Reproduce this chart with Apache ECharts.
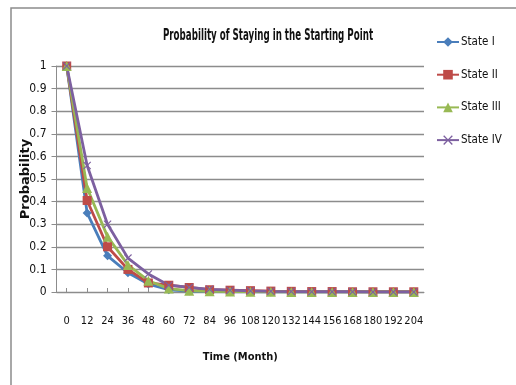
<!DOCTYPE html>
<html>
<head>
<meta charset="utf-8">
<script src="https://cdn.jsdelivr.net/npm/echarts@6/dist/echarts.min.js"></script>
<style>
  html, body { margin: 0; padding: 0; background: #fff; }
  #chart { width: 516px; height: 385px; }
</style>
</head>
<body>
<div id="chart"></div>
<script>
// Months since start
const months = ['0','12','24','36','48','60','72','84','96','108','120','132','144','156','168','180','192','204'];

// Probability of remaining in the starting state
const stateI   = [1, 0.35, 0.16, 0.085, 0.035, 0.01, 0.004, 0.002, 0.001, 0.001, 0, 0, 0, 0, 0, 0, 0, 0];
const stateII  = [1, 0.405, 0.20, 0.10, 0.04, 0.03, 0.02, 0.01, 0.008, 0.006, 0.004, 0.003, 0.002, 0.002, 0.001, 0.001, 0.001, 0.001];
const stateIII = [1, 0.46, 0.245, 0.12, 0.05, 0.015, 0.006, 0.003, 0.002, 0.001, 0.001, 0, 0, 0, 0, 0, 0, 0];
const stateIV  = [1, 0.56, 0.30, 0.15, 0.08, 0.03, 0.02, 0.012, 0.008, 0.005, 0.003, 0.002, 0.001, 0.001, 0.001, 0, 0, 0];

const yTicks = [0, 0.1, 0.2, 0.3, 0.4, 0.5, 0.6, 0.7, 0.8, 0.9, 1];

const chartTitle = 'Probability of Staying in the Starting Point';

const narrow = '"DejaVu Sans Condensed", "Liberation Sans Narrow", sans-serif';

// thin diagonal cross used as the State IV marker
const crossPath = 'path://M0,1L1,0L5,4L9,0L10,1L6,5L10,9L9,10L5,6L1,10L0,9L4,5Z';

function lineSeries(name, data, color, symbol, size) {
  return {
    name: name,
    type: 'line',
    data: data,
    symbol: symbol,
    symbolSize: size,
    showAllSymbol: true,
    lineStyle: { color: color, width: 2.8 },
    itemStyle: { color: color },
    emphasis: { disabled: true }
  };
}

const chart = echarts.init(document.getElementById('chart'), null, { renderer: 'canvas' });
chart.setOption({
  animation: false,
  backgroundColor: '#fff',
  graphic: [
    {
      type: 'rect',
      shape: { x: 11, y: 8, width: 520, height: 390 },
      style: { fill: 'none', stroke: '#8c8c8c', lineWidth: 1.5 },
      z: -1
    },
    {
      // title, squeezed horizontally to a narrow face
      type: 'text',
      x: 268, y: 36.5,
      scaleX: 0.645,
      style: {
        text: chartTitle,
        fontFamily: narrow, fontSize: 15, fontWeight: 'bold', fill: '#111',
        textAlign: 'center', textVerticalAlign: 'middle'
      }
    }
  ],
  legend: {
    orient: 'vertical',
    left: 431, top: 31,
    itemGap: 20.7,
    itemWidth: 22, itemHeight: 12,
    textStyle: { fontFamily: narrow, fontSize: 11.5, color: '#111', padding: [0, 0, 0, -3] },
    data: ['State I', 'State II', 'State III', 'State IV']
  },
  grid: { left: 56.5, right: 92, top: 66, bottom: 93 },
  xAxis: {
    type: 'category',
    data: months,
    boundaryGap: true,
    name: 'Time (Month)',
    nameLocation: 'middle',
    nameGap: 60,
    nameTextStyle: { fontFamily: narrow, fontSize: 11, fontWeight: 'bold', color: '#111' },
    axisLine: { lineStyle: { color: '#8c8c8c', width: 1 } },
    axisTick: { show: true, alignWithLabel: true, inside: true, length: 4, lineStyle: { color: '#8c8c8c' } },
    axisLabel: { fontFamily: narrow, fontSize: 11, color: '#111', margin: 24, interval: 0 }
  },
  yAxis: {
    type: 'value',
    min: 0, max: 1, interval: 0.1,
    name: 'Probability',
    nameLocation: 'middle',
    nameGap: 24,
    nameMoveOverlap: false,
    nameTextStyle: { fontFamily: 'DejaVu Sans, sans-serif', fontSize: 13, fontWeight: 'bold', color: '#111' },
    axisLine: { show: true, lineStyle: { color: '#8c8c8c', width: 1 } },
    axisTick: { show: true, length: 5, lineStyle: { color: '#8c8c8c' } },
    axisLabel: {
      fontFamily: narrow, fontSize: 12, color: '#111', margin: 10,
      formatter: function (v) {
        const t = yTicks.find(x => Math.abs(x - v) < 1e-9);
        return t === undefined ? '' : String(t);
      }
    },
    splitLine: { lineStyle: { color: '#8c8c8c', width: 1.3 } }
  },
  series: [
    lineSeries('State I', stateI, '#4a7ebb', 'diamond', 9),
    lineSeries('State II', stateII, '#be4b48', 'rect', 9),
    lineSeries('State III', stateIII, '#98b954', 'triangle', 10),
    lineSeries('State IV', stateIV, '#7d60a0', crossPath, 8)
  ]
});
</script>
</body>
</html>
